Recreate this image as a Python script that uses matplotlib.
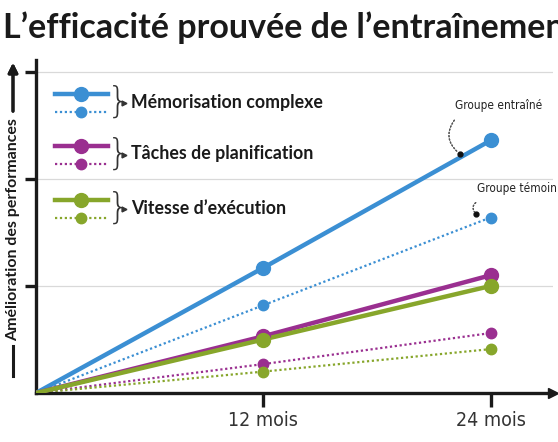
import matplotlib.pyplot as plt
from matplotlib.lines import Line2D

# data (improvement in arbitrary units)
months = [0, 12, 24]
tick_labels = ["12 mois", "24 mois"]
series_names = ["Mémorisation complexe", "Tâches de planification", "Vitesse d\u2019exécution"]
colors = ["#3b8fd3", "#9a2f90", "#87a62b"]
trained = [
    [0, 1.17, 2.36],
    [0, 0.53, 1.10],
    [0, 0.50, 1.00],
]
control = [
    [0, 0.82, 1.64],
    [0, 0.27, 0.56],
    [0, 0.20, 0.41],
]

W, H = 558, 442
NARROW = dict(family="DejaVu Sans", fontstretch="condensed")


def px(x, y):
    # pixel (from top-left) -> figure fraction
    return x / W, 1 - y / H


fig = plt.figure(figsize=(W / 100, H / 100), dpi=100)
fig.patch.set_facecolor("white")

x0, y0 = 36, 393
ax = fig.add_axes([x0 / W, (H - y0) / H, (553 - x0) / W, (y0 - 60) / H])
ax.set_xlim(0, 27.3)
ax.set_ylim(0, 3.0 * 333 / 321)

for gy in [1, 2, 3]:
    ax.axhline(gy, color="#d9d9d9", lw=0.9, zorder=0)

# control groups first (dotted), then trained (solid)
for vals, c in zip(control, colors):
    ax.plot(months, vals, ls=(0, (1, 1.2)), lw=1.6, color=c, zorder=2)
    ax.plot(months[1:], vals[1:], "o", ms=7.5, color=c, zorder=3)
for vals, c in zip(trained, colors):
    ax.plot(months, vals, "-", lw=3.2, color=c, zorder=4, solid_capstyle="round")
    ax.plot(months[1:], vals[1:], "o", ms=10, color=c, zorder=5)

for s in ["top", "right"]:
    ax.spines[s].set_visible(False)
for s in ["left", "bottom"]:
    ax.spines[s].set_linewidth(2.4)
    ax.spines[s].set_color("#1a1a1a")
ax.plot(1, 0, ">", ms=7, color="#1a1a1a", transform=ax.transAxes, clip_on=False)

ax.set_yticks([1, 2, 3])
ax.set_yticklabels([])
ax.tick_params(axis="y", direction="out", length=8, width=2.4, color="#1a1a1a")
ax.set_xticks([12, 24])
ax.set_xticklabels(tick_labels, fontsize=14, color="#333333", **NARROW)
ax.tick_params(axis="x", direction="out", length=10, width=2.4, color="#1a1a1a", pad=3)

# title (cut at the right edge, as in the original)
fig.text(*px(3, 28), "L\u2019efficacité prouvée de l\u2019entraînement", fontsize=24.5,
         fontweight="bold", family="Lato", color="#1a1a1a", va="center", ha="left")

# y label with line and arrow
fig.text(*px(13, 230), "Amélioration des performances", rotation=90, fontsize=11.5,
         fontweight="bold", family="Lato", color="#1a1a1a", va="center", ha="center")
fig.add_artist(Line2D(*zip(px(13, 346), px(13, 376)), transform=fig.transFigure,
                      lw=2.2, color="#1a1a1a"))
fig.add_artist(plt.annotate("", xy=px(13, 60), xytext=px(13, 114),
                            xycoords="figure fraction", textcoords="figure fraction",
                            arrowprops=dict(arrowstyle="-|>", lw=2.2, color="#1a1a1a",
                                            mutation_scale=14)))

# hand-made legend
legend_y = [94, 146, 200]
for name, c, ly in zip(series_names, colors, legend_y):
    fig.add_artist(Line2D(*zip(px(55, ly), px(108, ly)), transform=fig.transFigure,
                          lw=3.2, color=c))
    fig.add_artist(Line2D([px(81, ly)[0]], [px(81, ly)[1]], transform=fig.transFigure,
                          marker="o", ms=10, color=c))
    fig.add_artist(Line2D(*zip(px(55, ly + 18), px(108, ly + 18)), transform=fig.transFigure,
                          lw=1.6, ls=(0, (1, 1.2)), color=c))
    fig.add_artist(Line2D([px(81, ly + 18)[0]], [px(81, ly + 18)[1]],
                          transform=fig.transFigure, marker="o", ms=7.5, color=c))
    fig.text(*px(118, ly + 8), "}", fontsize=26, family="DejaVu Sans",
             fontweight="light", color="#333333", va="center", ha="center")
    fig.add_artist(Line2D([px(124, ly + 9)[0]], [px(124, ly + 9)[1]],
                          transform=fig.transFigure, marker=">", ms=3.5, color="#333333"))
    fig.text(*px(131, ly + 8), name, fontsize=12.8, fontweight="bold", family="Lato",
             color="#1a1a1a", va="center", ha="left")

# group annotations
note_font = dict(fontsize=8.5, color="#222222", ha="center", va="center", **NARROW)
fig.text(*px(499, 106), "Groupe entraîné", **note_font)
fig.text(*px(517, 188), "Groupe témoin", **note_font)
for start, end, rad in [((456, 118), (460, 154), 0.5), ((478, 201), (476, 214), 0.6)]:
    fig.add_artist(plt.annotate("", xy=px(*end), xytext=px(*start),
                                xycoords="figure fraction", textcoords="figure fraction",
                                arrowprops=dict(arrowstyle="-", lw=0.9, ls=":",
                                                color="#555555",
                                                connectionstyle=f"arc3,rad={rad}")))
    fig.add_artist(Line2D([px(*end)[0]], [px(*end)[1]], transform=fig.transFigure,
                          marker="o", ms=3.5, color="#111111"))

fig.savefig("out.png", dpi=100)
